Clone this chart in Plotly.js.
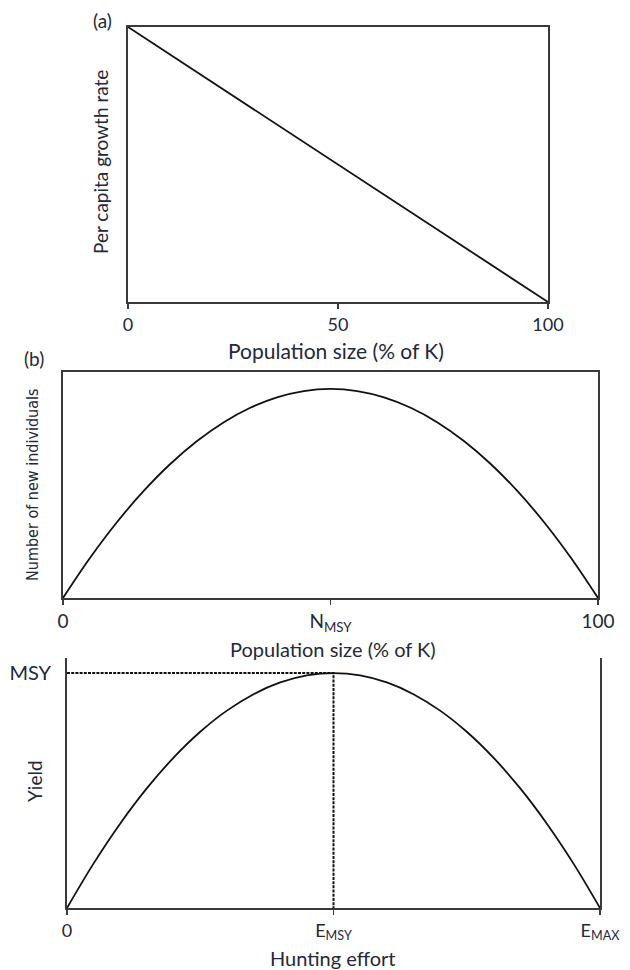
<!DOCTYPE html>
<html>
<head>
<meta charset="utf-8">
<script src="https://cdn.plot.ly/plotly-3.0.1.min.js"></script>
<style>html,body{margin:0;padding:0;background:#fff;}#chart{width:630px;height:970px;}</style>
</head>
<body>
<div id="chart"></div>
<script>
// Panel (a): per capita growth rate vs population size
const growthX = [0, 100];
const growthY = [1, 0];
const aTickVals = [0, 50, 100];
const aTickText = ['0', '50', '100'];

// Panel (b): number of new individuals vs population size
const popX = [0, 5, 10, 15, 20, 25, 30, 35, 40, 45, 50, 55, 60, 65, 70, 75, 80, 85, 90, 95, 100];
const newInd = [0, 475, 900, 1275, 1600, 1875, 2100, 2275, 2400, 2475, 2500, 2475, 2400, 2275, 2100, 1875, 1600, 1275, 900, 475, 0];
const bTickVals = [0, 50, 100];
const bTickText = ['0', 'N<sub>MSY</sub>', '100'];

// Panel (c): yield vs hunting effort
const effort = [0, 5, 10, 15, 20, 25, 30, 35, 40, 45, 50, 55, 60, 65, 70, 75, 80, 85, 90, 95, 100];
const yieldVals = [0, 475, 900, 1275, 1600, 1875, 2100, 2275, 2400, 2475, 2500, 2475, 2400, 2275, 2100, 1875, 1600, 1275, 900, 475, 0];
const msyEffort = [0, 50, 50];
const msyYield = [2500, 2500, 0];
const cTickVals = [0, 50, 100];
const cTickText = ['0', 'E<sub>MSY</sub>', 'E<sub>MAX</sub>'];
const cYTickVals = [2500];
const cYTickText = ['MSY'];

const W = 630, H = 970;
const px = v => v / W;
const py = v => 1 - v / H;
const FONT = 'Lato, "Open Sans", sans-serif';
const NARROW = '"Liberation Sans Narrow", "DejaVu Sans Condensed", sans-serif';
const TXT = '#23283a';
const FRAME = '#3a3a3a';

const traces = [
  {x: growthX, y: growthY, xaxis: 'x', yaxis: 'y', mode: 'lines', line: {color: '#111', width: 1.8}, hoverinfo: 'skip'},
  {x: popX, y: newInd, xaxis: 'x2', yaxis: 'y2', mode: 'lines', line: {color: '#111', width: 1.8, shape: 'spline'}, hoverinfo: 'skip'},
  {x: effort, y: yieldVals, xaxis: 'x3', yaxis: 'y3', mode: 'lines', line: {color: '#111', width: 1.8, shape: 'spline'}, hoverinfo: 'skip'},
  {x: msyEffort, y: msyYield, xaxis: 'x3', yaxis: 'y3', mode: 'lines', line: {color: '#111', width: 2, dash: '3px,1.2px'}, hoverinfo: 'skip'}
];

const baseX = {
  range: [0, 100], showgrid: false, zeroline: false, showline: true, linecolor: FRAME, linewidth: 2,
  ticks: 'outside', ticklen: 5, tickcolor: FRAME, tickwidth: 1.5, tickmode: 'array', fixedrange: true
};
const baseY = {
  showgrid: false, zeroline: false, showline: true, linecolor: FRAME, linewidth: 2,
  ticks: '', showticklabels: false, fixedrange: true
};

const layout = {
  width: W, height: H,
  margin: {l: 0, r: 0, t: 0, b: 0},
  paper_bgcolor: '#fff', plot_bgcolor: '#fff',
  showlegend: false,
  font: {family: FONT, color: TXT},
  xaxis: Object.assign({}, baseX, {
    domain: [px(128), px(548)], anchor: 'y', mirror: true,
    tickvals: aTickVals, ticktext: aTickText,
    tickfont: {family: FONT, size: 18, color: TXT}
  }),
  yaxis: Object.assign({}, baseY, {
    domain: [py(302), py(27)], anchor: 'x', range: [0, 1], mirror: true
  }),
  xaxis2: Object.assign({}, baseX, {
    domain: [px(63), px(598)], anchor: 'y2', mirror: true,
    tickvals: bTickVals, ticktext: bTickText,
    tickfont: {family: FONT, size: 19, color: TXT}
  }),
  yaxis2: Object.assign({}, baseY, {
    domain: [py(598), py(372)], anchor: 'x2', range: [0, 2703], mirror: true
  }),
  xaxis3: Object.assign({}, baseX, {
    domain: [px(67), px(600)], anchor: 'y3', mirror: false,
    tickvals: cTickVals, ticktext: cTickText,
    tickfont: {family: FONT, size: 18, color: TXT}
  }),
  yaxis3: Object.assign({}, baseY, {
    domain: [py(908), py(658)], anchor: 'x3', range: [0, 2660], mirror: true,
    showticklabels: true, tickmode: 'array', tickvals: cYTickVals, ticktext: cYTickText,
    tickfont: {family: FONT, size: 20, color: TXT}, ticklabelstandoff: 10
  }),
  annotations: [
    // panel labels
    {text: '(a)', xref: 'paper', yref: 'paper', x: px(102), y: py(20), showarrow: false, font: {family: FONT, size: 19, color: TXT}, xanchor: 'center', yanchor: 'middle'},
    {text: '(b)', xref: 'paper', yref: 'paper', x: px(34), y: py(358), showarrow: false, font: {family: FONT, size: 19, color: TXT}, xanchor: 'center', yanchor: 'middle'},
    // axis titles
    {text: 'Per capita growth rate', xref: 'paper', yref: 'paper', x: px(101), y: py(162), textangle: -90, showarrow: false, font: {family: FONT, size: 19, color: TXT}, xanchor: 'center', yanchor: 'middle'},
    {text: 'Population size (% of K)', xref: 'paper', yref: 'paper', x: px(336), y: py(350), showarrow: false, font: {family: FONT, size: 21, color: TXT}, xanchor: 'center', yanchor: 'middle'},
    {text: 'Number of new individuals', xref: 'paper', yref: 'paper', x: px(32), y: py(485), textangle: -90, showarrow: false, font: {family: NARROW, size: 16, color: TXT}, xanchor: 'center', yanchor: 'middle'},
    {text: 'Population size (% of K)', xref: 'paper', yref: 'paper', x: px(333), y: py(649), showarrow: false, font: {family: FONT, size: 20, color: TXT}, xanchor: 'center', yanchor: 'middle'},
    {text: 'Yield', xref: 'paper', yref: 'paper', x: px(34), y: py(781), textangle: -90, showarrow: false, font: {family: FONT, size: 19, color: TXT}, xanchor: 'center', yanchor: 'middle'},
    {text: 'Hunting effort', xref: 'paper', yref: 'paper', x: px(333), y: py(958), showarrow: false, font: {family: FONT, size: 20, color: TXT}, xanchor: 'center', yanchor: 'middle'}
  ]
};

Plotly.newPlot('chart', traces, layout, {displayModeBar: false, staticPlot: true});
</script>
</body>
</html>
